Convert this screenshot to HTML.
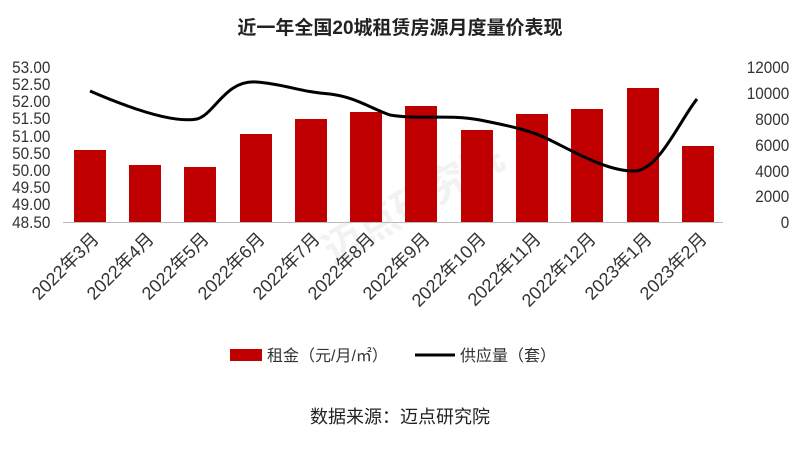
<!DOCTYPE html><html><head><meta charset="utf-8"><style>
body{margin:0;background:#fff;width:800px;height:451px;overflow:hidden}
</style></head><body>
<svg width="800" height="451" xmlns="http://www.w3.org/2000/svg" font-family="Liberation Sans, Noto Sans CJK SC, sans-serif">
<text x="400" y="34" text-anchor="middle" font-size="19" font-weight="bold" fill="#222">近一年全国20城租赁房源月度量价表现</text>
<g font-size="17" fill="#333" text-anchor="end" transform="scale(0.9,1)">
<text x="56" y="73">53.00</text><text x="56" y="90">52.50</text><text x="56" y="107">52.00</text><text x="56" y="124">51.50</text><text x="56" y="142">51.00</text><text x="56" y="159">50.50</text><text x="56" y="176">50.00</text><text x="56" y="193">49.50</text><text x="56" y="210">49.00</text><text x="56" y="228">48.50</text>
</g>
<g font-size="17" fill="#333" text-anchor="end" transform="scale(0.9,1)">
<text x="877" y="73">12000</text><text x="877" y="99">10000</text><text x="877" y="125">8000</text><text x="877" y="151">6000</text><text x="877" y="177">4000</text><text x="877" y="202">2000</text><text x="877" y="228">0</text>
</g>
<text x="420" y="215" font-size="40" fill="#f2f2f2" transform="rotate(-30 420 215)" text-anchor="middle" font-weight="bold">迈点研究院</text>
<g fill="#c00000">
<rect x="74" y="150" width="32" height="72"/><rect x="129" y="165" width="32" height="57"/><rect x="184" y="167" width="32" height="55"/><rect x="240" y="134" width="32" height="88"/><rect x="295" y="119" width="32" height="103"/><rect x="350" y="112" width="32" height="110"/><rect x="405" y="106" width="32" height="116"/><rect x="461" y="130" width="32" height="92"/><rect x="516" y="114" width="32" height="108"/><rect x="571" y="109" width="32" height="113"/><rect x="627" y="88" width="32" height="134"/><rect x="682" y="146" width="32" height="76"/>
</g>
<line x1="63" y1="222.5" x2="723" y2="222.5" stroke="#bbb"/>
<path d="M90,91 C120,104 170,124 197,119 C215,114 225,80 256,82 C285,84 300,92 330,94 C355,97 370,108 390,115 C420,120 450,114 480,120 C510,126 530,130 550,140 C580,155 610,172 636,171 C660,168 680,120 697,99" fill="none" stroke="#000" stroke-width="3"/>
<g font-size="18" fill="#333" text-anchor="end">
<text transform="translate(100,240) rotate(-45)">2022年3月</text>
<text transform="translate(155,240) rotate(-45)">2022年4月</text>
<text transform="translate(210,240) rotate(-45)">2022年5月</text>
<text transform="translate(266,240) rotate(-45)">2022年6月</text>
<text transform="translate(321,240) rotate(-45)">2022年7月</text>
<text transform="translate(376,240) rotate(-45)">2022年8月</text>
<text transform="translate(431,240) rotate(-45)">2022年9月</text>
<text transform="translate(487,240) rotate(-45)">2022年10月</text>
<text transform="translate(542,240) rotate(-45)">2022年11月</text>
<text transform="translate(597,240) rotate(-45)">2022年12月</text>
<text transform="translate(653,240) rotate(-45)">2023年1月</text>
<text transform="translate(708,240) rotate(-45)">2023年2月</text>
</g>
<rect x="230" y="349" width="32" height="12" fill="#c00000"/>
<text x="267" y="361" font-size="16" fill="#333">租金（元/月/㎡）</text>
<line x1="415" y1="355" x2="455" y2="355" stroke="#000" stroke-width="3"/>
<text x="460" y="361" font-size="16" fill="#333">供应量（套）</text>
<text x="400" y="423" font-size="18" fill="#222" text-anchor="middle">数据来源：迈点研究院</text>
</svg>
</body></html>
